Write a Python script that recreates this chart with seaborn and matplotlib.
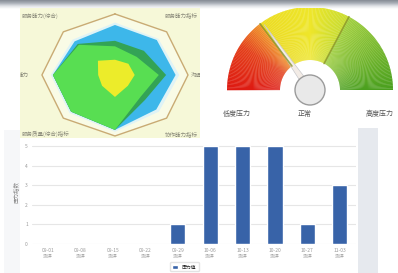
import numpy as np
import pandas as pd
import seaborn as sns
import matplotlib
matplotlib.use('Agg')
from matplotlib import pyplot as plt
from matplotlib.patches import Wedge, Circle, Polygon, Rectangle
from matplotlib.colors import LinearSegmentedColormap

# ---- data ----
# radar axes go clockwise from the top
radar_pale = [0.86, 0.84, 0.88, 0.85, 0.93, 0.88, 0.88, 0.82]
radar_blue = [0.82, 0.81, 0.83, 0.80, 0.90, 0.85, 0.85, 0.78]
radar_dark = [0.56, 0.56, 0.70, 0.58, 0.90, 0.85, 0.85, 0.72]
radar_green = [0.47, 0.42, 0.60, 0.50, 0.90, 0.85, 0.85, 0.70]
radar_yellow = [0.25, 0.26, 0.27, 0.25, 0.36, 0.25, 0.23, 0.33]
# corner labels: upper-right, right, lower-right, lower-left, left, upper-left
radar_labels = ['服务能力指标', '沟通', '协作能力指标', '服务质量(综合)指标', '能力', '服务能力(综合)']

gauge_labels = ['低度压力', '正常', '高度压力']
gauge_bounds = [127, 62]      # section borders, degrees
gauge_value = 125             # needle angle, degrees

bar_cats = ['09-01\n测评', '09-08\n测评', '09-15\n测评', '09-22\n测评', '09-29\n测评',
            '10-06\n测评', '10-13\n测评', '10-20\n测评', '10-27\n测评', '11-03\n测评']
bar_vals = [0, 0, 0, 0, 1, 5, 5, 5, 1, 3]
bar_legend = '压力值'

sns.set_style('white')
plt.rcParams['font.family'] = ['Noto Sans CJK SC', 'DejaVu Sans']

W, H = 398, 273
fig = plt.figure(figsize=(W / 100, H / 100), dpi=100)
fig.patch.set_facecolor('white')

def box(l, t, w, h):
    return [l / W, 1 - (t + h) / H, w / W, h / H]

# background bits: top bar and side strips
bg = fig.add_axes([0, 0, 1, 1])
grad = np.linspace(0, 1, 30).reshape(-1, 1)
bg.imshow(grad, extent=[0, W, 9, 0], aspect='auto',
          cmap=LinearSegmentedColormap.from_list('g', ['#868c95', '#a9afb7', '#dfe2e6', '#ffffff']))
bg.add_patch(Rectangle((358, 128), 20, 145, color='#e6e9ee', lw=0))
bg.add_patch(Rectangle((4, 130), 16, 143, color='#f6f7f9', lw=0))
bg.set_xlim(0, W)
bg.set_ylim(H, 0)
bg.axis('off')

# ---- radar ----
ax = fig.add_axes(box(20, 8, 180, 130))
ax.set_facecolor('#f6f8d8')
ang = np.deg2rad(90 - np.arange(8) * 45)
ang_c = np.append(ang, ang[0])
def poly(vals, color, **kw):
    r = np.append(vals, vals[0])
    ax.fill(r * np.cos(ang_c), r * np.sin(ang_c), color=color, lw=0, **kw)
poly([1] * 8, '#f9fbe6')
poly(radar_pale, '#dff3f6')
poly(radar_blue, '#3db7ea')
poly(radar_dark, '#33a356')
poly(radar_green, '#58de52')
poly(radar_yellow, '#ecec2a')
ax.plot(np.cos(ang_c), np.sin(ang_c), color='#c9ab74', lw=1)
ax.set_xlim(-1.30, 1.164)
ax.set_ylim(-1.033, 1.098)
ax.set_xticks([])
ax.set_yticks([])
for s in ax.spines.values():
    s.set_visible(False)
lab_pos = [(0.99, 0.94, 'right'), (1.01, 0.48, 'right'), (0.99, 0.03, 'right'),
           (0.01, 0.03, 'left'), (-0.01, 0.48, 'left'), (0.01, 0.94, 'left')]
for lbl, (px, py, ha) in zip(radar_labels, lab_pos):
    ax.text(px, py, lbl, transform=ax.transAxes, fontsize=4, color='#8a8a7a', ha=ha, va='center', clip_on=True)

# ---- gauge ----
gx = fig.add_axes(box(210, 8, 188, 115))
gx.set_xlim(-100, 88)
gx.set_ylim(-33, 82)
gx.axis('off')
cmap = LinearSegmentedColormap.from_list('gauge', [
    (0.0, '#de1a12'), (0.18, '#e4401a'), (0.29, '#f0962c'), (0.295, '#ecdc22'),
    (0.5, '#eee62a'), (0.655, '#c8dc30'), (0.66, '#a2d040'), (1.0, '#4a9f1e')])
R_out, R_in = 83, 30
for a in range(180):
    gx.add_patch(Wedge((0, 0), R_out, a, a + 1.2, width=R_out - R_in, color=cmap(1 - (a + 0.5) / 180), lw=0))
for b in gauge_bounds:
    t = np.deg2rad(b)
    gx.plot([R_in * np.cos(t), R_out * np.cos(t)], [R_in * np.sin(t), R_out * np.sin(t)],
            color='#8a952a', lw=1.2, alpha=0.8)
t = np.deg2rad(gauge_value)
tip = (80 * np.cos(t), 80 * np.sin(t))
px, py = -np.sin(t) * 3.5, np.cos(t) * 3.5
gx.add_patch(Polygon([tip, (px, py), (-px, -py)], closed=True, facecolor='#f3ece6', edgecolor='#c8c8cc', lw=0.5))
gx.add_patch(Circle((0, 0), 15, facecolor='#e9e9e9', edgecolor='#9b9b9b', lw=1))
for lbl, xx in zip(gauge_labels, [-73, -5, 70]):
    gx.text(xx, -24, lbl, fontsize=5, color='#555555', ha='center', va='center')

# ---- bars ----
bx = fig.add_axes(box(32, 140, 324, 104))
df = pd.DataFrame({'cat': bar_cats, 'val': bar_vals})
sns.barplot(data=df, x='cat', y='val', color='#3863a8', saturation=1, width=0.47, label=bar_legend, ax=bx)
bx.set_xlim(-0.5, 9.5)
bx.set_ylim(0, 5.3)
bx.set_yticks(range(6))
bx.yaxis.grid(True, color='#e6e6e6', lw=0.8)
bx.set_axisbelow(True)
for s in bx.spines.values():
    s.set_visible(False)
bx.tick_params(axis='both', length=0, labelsize=3.5, colors='#9a9a9a', pad=3)
bx.set_xlabel('')
bx.set_ylabel('压力指数', fontsize=4, color='#8a8a8a', labelpad=4)
bx.legend(loc='upper left', bbox_to_anchor=(168 / W, 1 - 260 / H), bbox_transform=fig.transFigure,
          fontsize=3.5, frameon=True, edgecolor='#dddddd', handlelength=1.2, handleheight=0.8, borderpad=0.4)

plt.savefig('out.png', dpi=100)
